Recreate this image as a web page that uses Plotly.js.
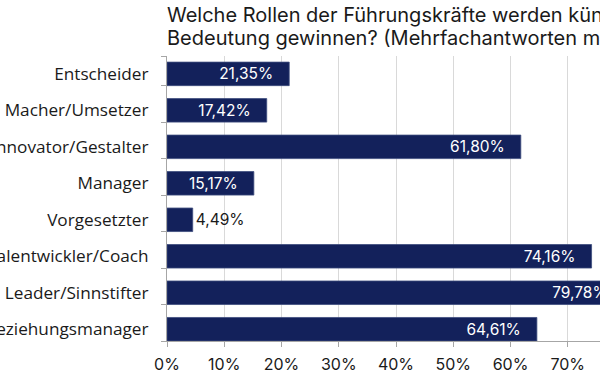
<!DOCTYPE html>
<html>
<head>
<meta charset="utf-8">
<script src="https://cdn.plot.ly/plotly-3.0.1.min.js"></script>
<style>
  html, body { margin: 0; padding: 0; width: 600px; height: 374px; overflow: hidden; background: #fff; }
  #chart { position: absolute; left: -100px; top: 0; width: 800px; height: 374px; }
</style>
</head>
<body>
<div id="chart"></div>
<script>
const categories = [
  "Entscheider",
  "Macher/Umsetzer",
  "Innovator/Gestalter",
  "Manager",
  "Vorgesetzter",
  "Talentwickler/Coach",
  "Leader/Sinnstifter",
  "Beziehungsmanager"
];
const shares = [0.2135, 0.1742, 0.6180, 0.1517, 0.0449, 0.7416, 0.7978, 0.6461];
const xTickValues = [0, 0.1, 0.2, 0.3, 0.4, 0.5, 0.6, 0.7, 0.8];
const titleLines = [
  "Welche Rollen der Führungskräfte werden künftig an",
  "Bedeutung gewinnen? (Mehrfachantworten möglich)"
];

const barWidth = 0.645;
const yTop = -0.49;
const yBottom = (categories.length - 1) + barWidth / 2;
const boundaryTicks = [yTop].concat(categories.map((c, i) => i + barWidth / 2));

const trace = {
  type: 'bar',
  orientation: 'h',
  y: categories,
  x: shares,
  width: barWidth,
  marker: { color: '#13215b', line: { color: '#3e4c7e', width: 0.8 } },
  texttemplate: '%{x:.2%}\u00a0\u00a0\u00a0',
  textposition: 'auto',
  insidetextanchor: 'end',
  insidetextfont: { family: 'Inter', size: 15.5, color: '#ffffff' },
  outsidetextfont: { family: 'Inter', size: 15.5, color: '#1a1a1a' },
  constraintext: 'none',
  cliponaxis: false,
  hoverinfo: 'none'
};

const helper = {
  type: 'scatter', mode: 'markers', x: [0], y: [0], yaxis: 'y2',
  marker: { opacity: 0 }, hoverinfo: 'none', showlegend: false
};

const plotTop = 56, plotH = 284.7;
const titleCenters = [15, 38];
const annotations = titleLines.map((t, i) => ({
  text: t, showarrow: false,
  xref: 'paper', x: 0, xanchor: 'left', xshift: -2,
  yref: 'paper', y: 1 + (plotTop - titleCenters[i]) / plotH, yanchor: 'middle',
  font: { family: 'Inter', size: 20, color: '#1a1a1a' }
}));

const layout = {
  width: 800, height: 374,
  margin: { l: 267, r: 74.6, t: 56, b: 33.3, pad: 0 },
  paper_bgcolor: '#ffffff', plot_bgcolor: '#ffffff',
  separators: ',.',
  showlegend: false,
  bargap: 0.355,
  annotations: annotations,
  xaxis: {
    range: [0, 0.8],
    tickvals: xTickValues,
    tickformat: '.0%',
    showgrid: true, gridcolor: '#d9d9d9', gridwidth: 1,
    zeroline: false,
    showline: true, linecolor: '#a6a6a6', linewidth: 1,
    ticks: 'outside', ticklen: 5, tickcolor: '#a6a6a6',
    ticklabelstandoff: 4,
    tickfont: { family: 'Inter', size: 16, color: '#1a1a1a' },
    fixedrange: true
  },
  yaxis: {
    type: 'category',
    range: [yBottom, yTop],
    showgrid: false, zeroline: false,
    showline: true, linecolor: '#a6a6a6', linewidth: 1,
    ticks: '',
    ticklabelstandoff: 14,
    tickfont: { family: 'Open Sans', size: 17.2, color: '#1a1a1a' },
    fixedrange: true
  },
  yaxis2: {
    overlaying: 'y', anchor: 'x', side: 'left',
    type: 'linear',
    range: [yBottom, yTop],
    tickvals: boundaryTicks,
    ticks: 'outside', ticklen: 5, tickcolor: '#a6a6a6', tickwidth: 1,
    showticklabels: false, showgrid: false, zeroline: false, showline: false,
    fixedrange: true
  }
};

Plotly.newPlot('chart', [trace, helper], layout, { displayModeBar: false, staticPlot: true });
</script>
</body>
</html>
